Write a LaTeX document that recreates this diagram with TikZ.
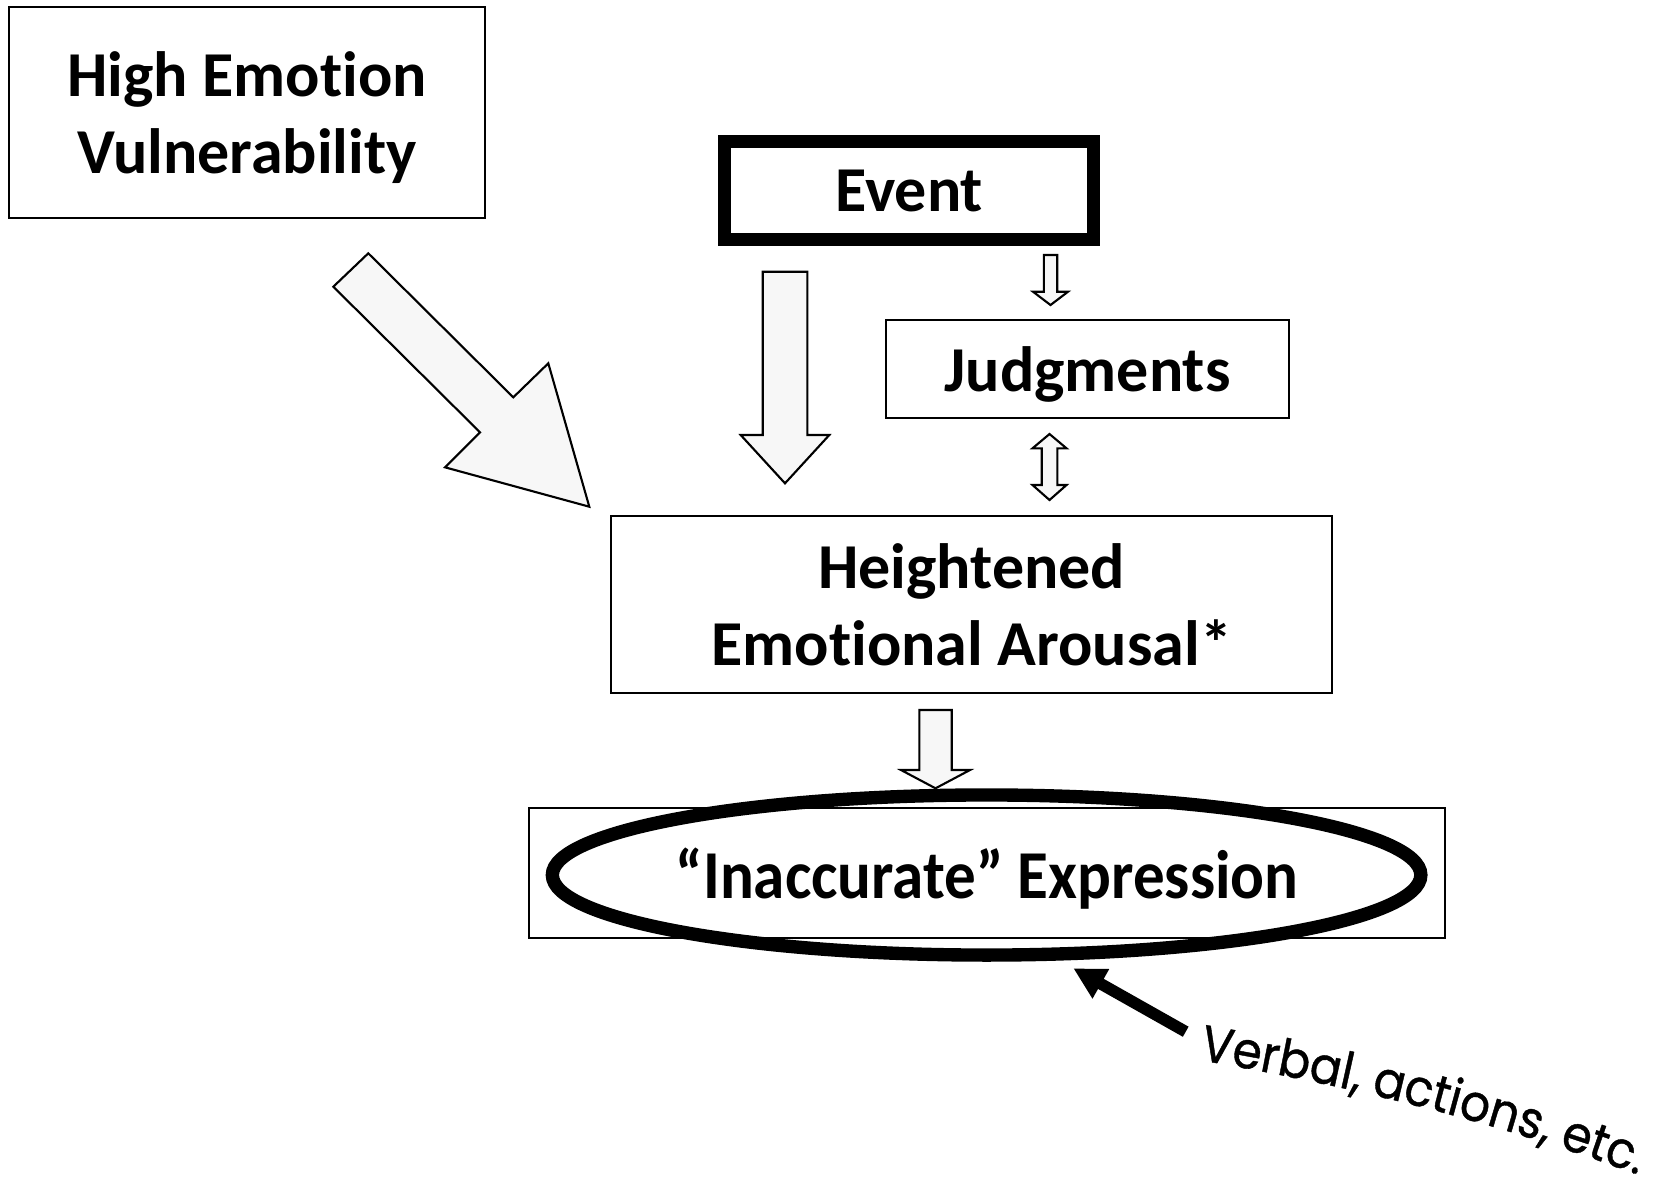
\documentclass[tikz,border=0pt]{standalone}
\usepackage{fontspec}
\setmainfont{Carlito}[Ligatures={TeX,NoCommon}]
\newfontfamily\condfont{Carlito}[FakeStretch=0.92,Ligatures={TeX,NoCommon}]
\newfontfamily\handfont{Poppins}[FakeStretch=0.92,FakeBold=0.8]
\usetikzlibrary{shapes.geometric,arrows.meta,decorations.text}
\definecolor{afill}{RGB}{247,247,247}
\tikzset{
  box/.style={draw, line width=0.6pt, rectangle, inner sep=0pt, align=center,
    text depth=0pt, font=\fontsize{18.2}{22.1}\selectfont\bfseries},
  blockarrow/.style={draw, line width=0.6pt, fill=afill, line join=miter},
}
\begin{document}
\begin{tikzpicture}[x=0.01cm,y=-0.01cm]
\useasboundingbox (0,0) rectangle (1667,1190);

% boxes
\node[box, minimum width=4.76cm, minimum height=2.11cm] (hev) at (247,112.5) {High Emotion\\Vulnerability};
\node[box, line width=3.7pt, minimum width=3.685cm, minimum height=0.975cm] (event) at (909.25,190.75) {Event};
\node[box, minimum width=4.02cm, minimum height=0.978cm] (judg) at (1087.5,368.9) {Judgments};
\node[box, minimum width=7.207cm, minimum height=1.776cm] (hea) at (971.7,604.4) {Heightened\\Emotional Arousal*};
\node[box, minimum width=9.154cm, minimum height=1.297cm,
  font=\fontsize{19.5}{22}\selectfont\condfont\bfseries] (inacc) at (987.1,872.9) {“Inaccurate” Expression};
\node[draw, ellipse, line width=3.8pt, minimum width=8.68cm, minimum height=1.6cm, inner sep=0pt] (ring) at (986.6,875) {};

% block arrows
\draw[blockarrow] (368.3,253.3) -- (333.3,286.7) -- (480,432.3) -- (445,467.3)
  -- (589.3,506.7) -- (548.3,363.3) -- (513.3,397.3) -- cycle;
\draw[blockarrow] (762.7,271.7) -- (807.3,271.7) -- (807.3,435) -- (829.3,435)
  -- (785,483.3) -- (740.7,435) -- (762.7,435) -- cycle;
\draw[blockarrow] (1043.8,255) -- (1057.2,255) -- (1057.2,291.7) -- (1068,291.7)
  -- (1050.5,305) -- (1033,291.7) -- (1043.8,291.7) -- cycle;
\draw[blockarrow] (1049.5,434) -- (1066.5,448.3) -- (1057.3,448.3) -- (1057.3,485)
  -- (1066.5,485) -- (1049.5,500) -- (1032.5,485) -- (1041.7,485) -- (1041.7,448.3)
  -- (1032.5,448.3) -- cycle;
\draw[blockarrow] (919.3,710) -- (951.7,710) -- (951.7,770) -- (970,770)
  -- (935.5,788.3) -- (901,770) -- (919.3,770) -- cycle;

% verbal arrow
\coordinate (vtail) at (1185.7,1031.7);
\coordinate (vtip) at (1073.3,968.3);
\draw[line width=3.3pt, -{Triangle[length=9pt,width=9pt]}] (vtail) -- (vtip);

% curved hand-written text
\path[decorate, decoration={text along path, text align=left,
  text={|\handfont\fontsize{14.5}{17}\selectfont|Verbal, actions, etc.}}]
  (1199,1060) .. controls (1345,1085) and (1490,1119) .. (1652,1180) -- (1720,1206);
\end{tikzpicture}
\end{document}
